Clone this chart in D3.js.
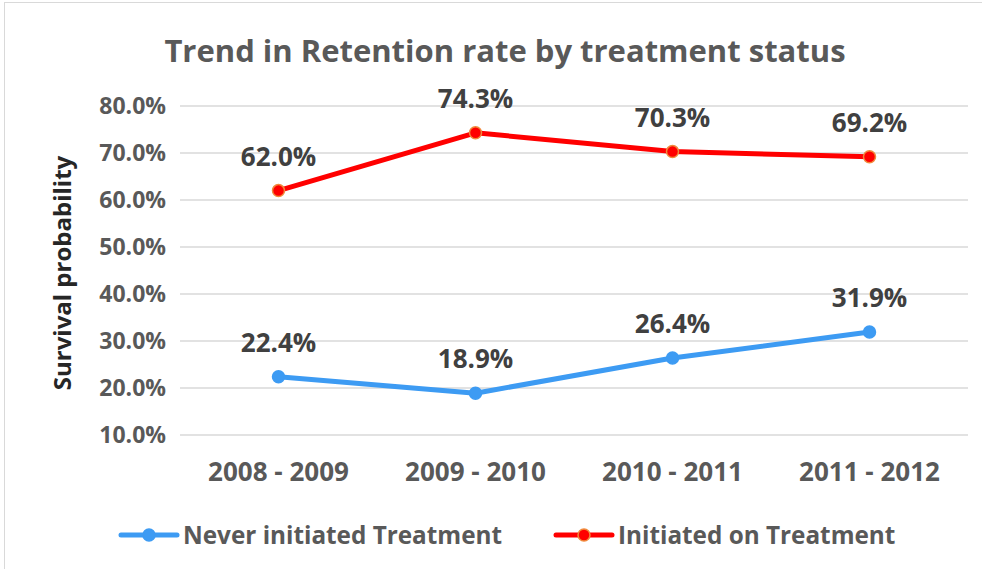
<!DOCTYPE html>
<html>
<head>
<meta charset="utf-8">
<script src="https://cdnjs.cloudflare.com/ajax/libs/d3/7.8.5/d3.min.js"></script>
<style>
  body { margin: 0; background: #fff; }
  text { font-family: "Open Sans", sans-serif; font-weight: bold; }
</style>
</head>
<body>
<div id="root"></div>
<script>
var categories = ["2008 - 2009", "2009 - 2010", "2010 - 2011", "2011 - 2012"];
var neverInitiated = [22.4, 18.9, 26.4, 31.9];
var initiated = [62.0, 74.3, 70.3, 69.2];
var yTicks = [10, 20, 30, 40, 50, 60, 70, 80];

var w = 982, h = 569;
var margin = { top: 106, right: 14, bottom: 134, left: 180 };
var font = "'Open Sans', sans-serif";

var svg = d3.select("#root").append("svg").attr("width", w).attr("height", h);
svg.append("rect").attr("x", 4.5).attr("y", 2.5).attr("width", w + 10).attr("height", h + 10)
  .attr("fill", "white").attr("stroke", "#d9d9d9");

var x = d3.scaleBand().domain(categories).range([margin.left, w - margin.right]);
var y = d3.scaleLinear().domain([10, 80]).range([h - margin.bottom, margin.top]);

// gridlines
svg.append("g").selectAll("line").data(yTicks).enter().append("line")
  .attr("x1", margin.left).attr("x2", w - margin.right)
  .attr("y1", function(d) { return y(d); }).attr("y2", function(d) { return y(d); })
  .attr("stroke", "#d9d9d9").attr("stroke-width", 1.5);

// y axis
var yAxis = d3.axisLeft(y).tickValues(yTicks).tickSize(0).tickPadding(0)
  .tickFormat(function(d) { return d.toFixed(1) + "%"; });
var gy = svg.append("g").attr("transform", "translate(" + (margin.left - 14) + ",0)").call(yAxis);
gy.select(".domain").remove();
gy.selectAll("text").style("font-size", "23px").attr("fill", "#595959")
  .style("font-family", font).style("font-weight", "bold");

// x axis
var xAxis = d3.axisBottom(x).tickSize(0).tickPadding(0);
var gx = svg.append("g").attr("transform", "translate(0," + (h - margin.bottom + 28) + ")").call(xAxis);
gx.select(".domain").remove();
gx.selectAll("text").style("font-size", "26px").attr("fill", "#595959")
  .style("font-family", font).style("font-weight", "bold");

var line = d3.line()
  .x(function(d, i) { return x(categories[i]) + x.bandwidth() / 2; })
  .y(function(d) { return y(d); });

var series = [
  { name: "Never initiated Treatment", values: neverInitiated, color: "#3d9bf3", marker: "#3d9bf3", edge: "#3d9bf3" },
  { name: "Initiated on Treatment", values: initiated, color: "#ff0000", marker: "#ff0000", edge: "#f08a3c" }
];

series.forEach(function(s) {
  svg.append("path").datum(s.values).attr("d", line)
    .attr("fill", "none").attr("stroke", s.color).attr("stroke-width", 5).attr("stroke-linejoin", "round");
  svg.append("g").selectAll("circle").data(s.values).enter().append("circle")
    .attr("cx", function(d, i) { return x(categories[i]) + x.bandwidth() / 2; })
    .attr("cy", function(d) { return y(d); })
    .attr("r", 6).attr("fill", s.marker).attr("stroke", s.edge).attr("stroke-width", 1.5);
  svg.append("g").selectAll("text").data(s.values).enter().append("text")
    .attr("x", function(d, i) { return x(categories[i]) + x.bandwidth() / 2; })
    .attr("y", function(d) { return y(d) - 25; })
    .attr("text-anchor", "middle").style("font-size", "26px").attr("fill", "#404040")
    .text(function(d) { return d.toFixed(1) + "%"; });
});

// title
svg.append("text").attr("x", 505).attr("y", 62).attr("text-anchor", "middle")
  .style("font-size", "31px").attr("fill", "#595959").text("Trend in Retention rate by treatment status");

// y axis title
svg.append("text").attr("transform", "translate(71,273) rotate(-90)").attr("text-anchor", "middle")
  .style("font-size", "24px").attr("fill", "#262626").text("Survival probability");

// legend
var legendX = [121, 556];
series.forEach(function(s, i) {
  var g = svg.append("g").attr("transform", "translate(" + legendX[i] + ",535)");
  g.append("line").attr("x1", 0).attr("x2", 56).attr("stroke", s.color).attr("stroke-width", 5).attr("stroke-linecap", "round");
  g.append("circle").attr("cx", 28).attr("r", 6).attr("fill", s.marker).attr("stroke", s.edge).attr("stroke-width", 1.5);
  g.append("text").attr("x", 62).attr("y", 9).style("font-size", "24.3px").attr("fill", "#595959").text(s.name);
});
</script>
</body>
</html>
